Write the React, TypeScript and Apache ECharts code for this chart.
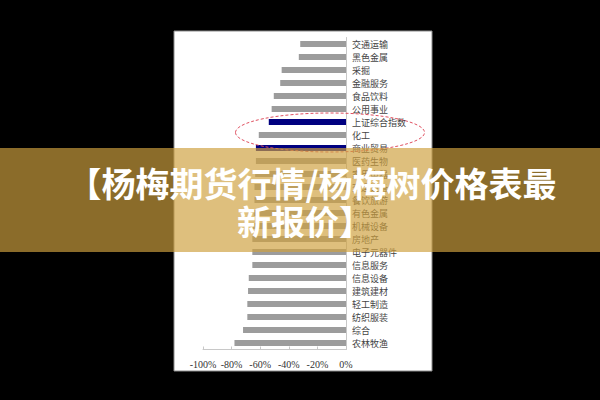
import React, { useEffect, useRef } from "react";
import * as echarts from "echarts";

const categories = [
  "交通运输", "黑色金属", "采掘", "金融服务", "食品饮料", "公用事业",
  "上证综合指数", "化工", "商业贸易", "医药生物", "家用电器", "交运设备",
  "餐饮旅游", "有色金属", "机械设备", "房地产", "电子元器件", "信息服务",
  "信息设备", "建筑建材", "轻工制造", "纺织服装", "综合", "农林牧渔",
];
const values = [
  -32, -33, -45, -46, -50.5, -52,
  -54, -61, -63, -63, -63.5, -64,
  -64, -64.5, -65, -65.5, -65.5, -65.5,
  -68, -68.5, -69, -69, -72, -78,
];
const highlighted = ["上证综合指数", "商业贸易"];
const xTicks = { min: -100, max: 0, interval: 20 };
const titleLines = ["【杨梅期货行情/杨梅树价格表最", "新报价】"];

export default function App() {
  const ref = useRef<HTMLDivElement>(null);
  useEffect(() => {
    if (!ref.current) return;
    const chart = echarts.init(ref.current, null, { renderer: "svg" });
    chart.setOption({
      animation: false,
      backgroundColor: "#000000",
      grid: { left: 203, right: 254, top: 37.5, bottom: 50.5, containLabel: false },
      xAxis: {
        type: "value",
        min: xTicks.min,
        max: xTicks.max,
        interval: xTicks.interval,
        axisLine: { show: true, lineStyle: { color: "#c8c8c8", width: 1 } },
        axisTick: { show: true, inside: true, length: 3, lineStyle: { color: "#c8c8c8" } },
        splitLine: { show: false },
        axisLabel: {
          formatter: (v: number) => `${v}%`,
          color: "#333",
          fontSize: 10,
          fontFamily: "'Liberation Serif', serif",
          margin: 10,
        },
      },
      yAxis: {
        type: "category",
        data: categories,
        inverse: true,
        position: "right",
        axisLine: { show: true, lineStyle: { color: "#c8c8c8", width: 1 } },
        axisTick: { show: false },
        axisLabel: {
          color: "#444",
          fontSize: 9,
          fontFamily: "'Noto Sans CJK SC', sans-serif",
          margin: 6,
        },
      },
      series: [
        {
          type: "bar",
          barWidth: 6,
          data: values.map((v, i) => ({
            value: v,
            itemStyle: {
              color: highlighted.includes(categories[i]) ? "#000080" : "#9c9c9c",
            },
          })),
        },
      ],
      graphic: [
        {
          type: "rect",
          z: -10,
          shape: { x: 174, y: 31, width: 258, height: 340 },
          style: { fill: "#ffffff", stroke: "#8c8c8c", lineWidth: 1 },
        },
        {
          type: "ellipse",
          z: 50,
          shape: { cx: 330, cy: 132.5, rx: 94.5, ry: 19.5 },
          style: { fill: "none", stroke: "#e05060", lineWidth: 1, lineDash: [3, 2] },
        },
        {
          type: "rect",
          z: 100,
          shape: { x: 0, y: 148, width: 600, height: 104 },
          style: { fill: "rgba(206,160,62,0.675)" },
        },
        {
          type: "text",
          z: 110,
          x: 312,
          y: 182,
          style: {
            text: titleLines[0],
            fill: "#ffffff",
            font: "bold 34px 'Noto Sans CJK SC', sans-serif",
            textAlign: "center",
            textVerticalAlign: "middle",
          },
        },
        {
          type: "text",
          z: 110,
          x: 305,
          y: 220,
          style: {
            text: titleLines[1],
            fill: "#ffffff",
            font: "bold 34px 'Noto Sans CJK SC', sans-serif",
            textAlign: "center",
            textVerticalAlign: "middle",
          },
        },
      ],
    });
    return () => chart.dispose();
  }, []);
  return (
    <div
      ref={ref}
      style={{ position: "fixed", left: 0, top: 0, width: 600, height: 400 }}
    />
  );
}
